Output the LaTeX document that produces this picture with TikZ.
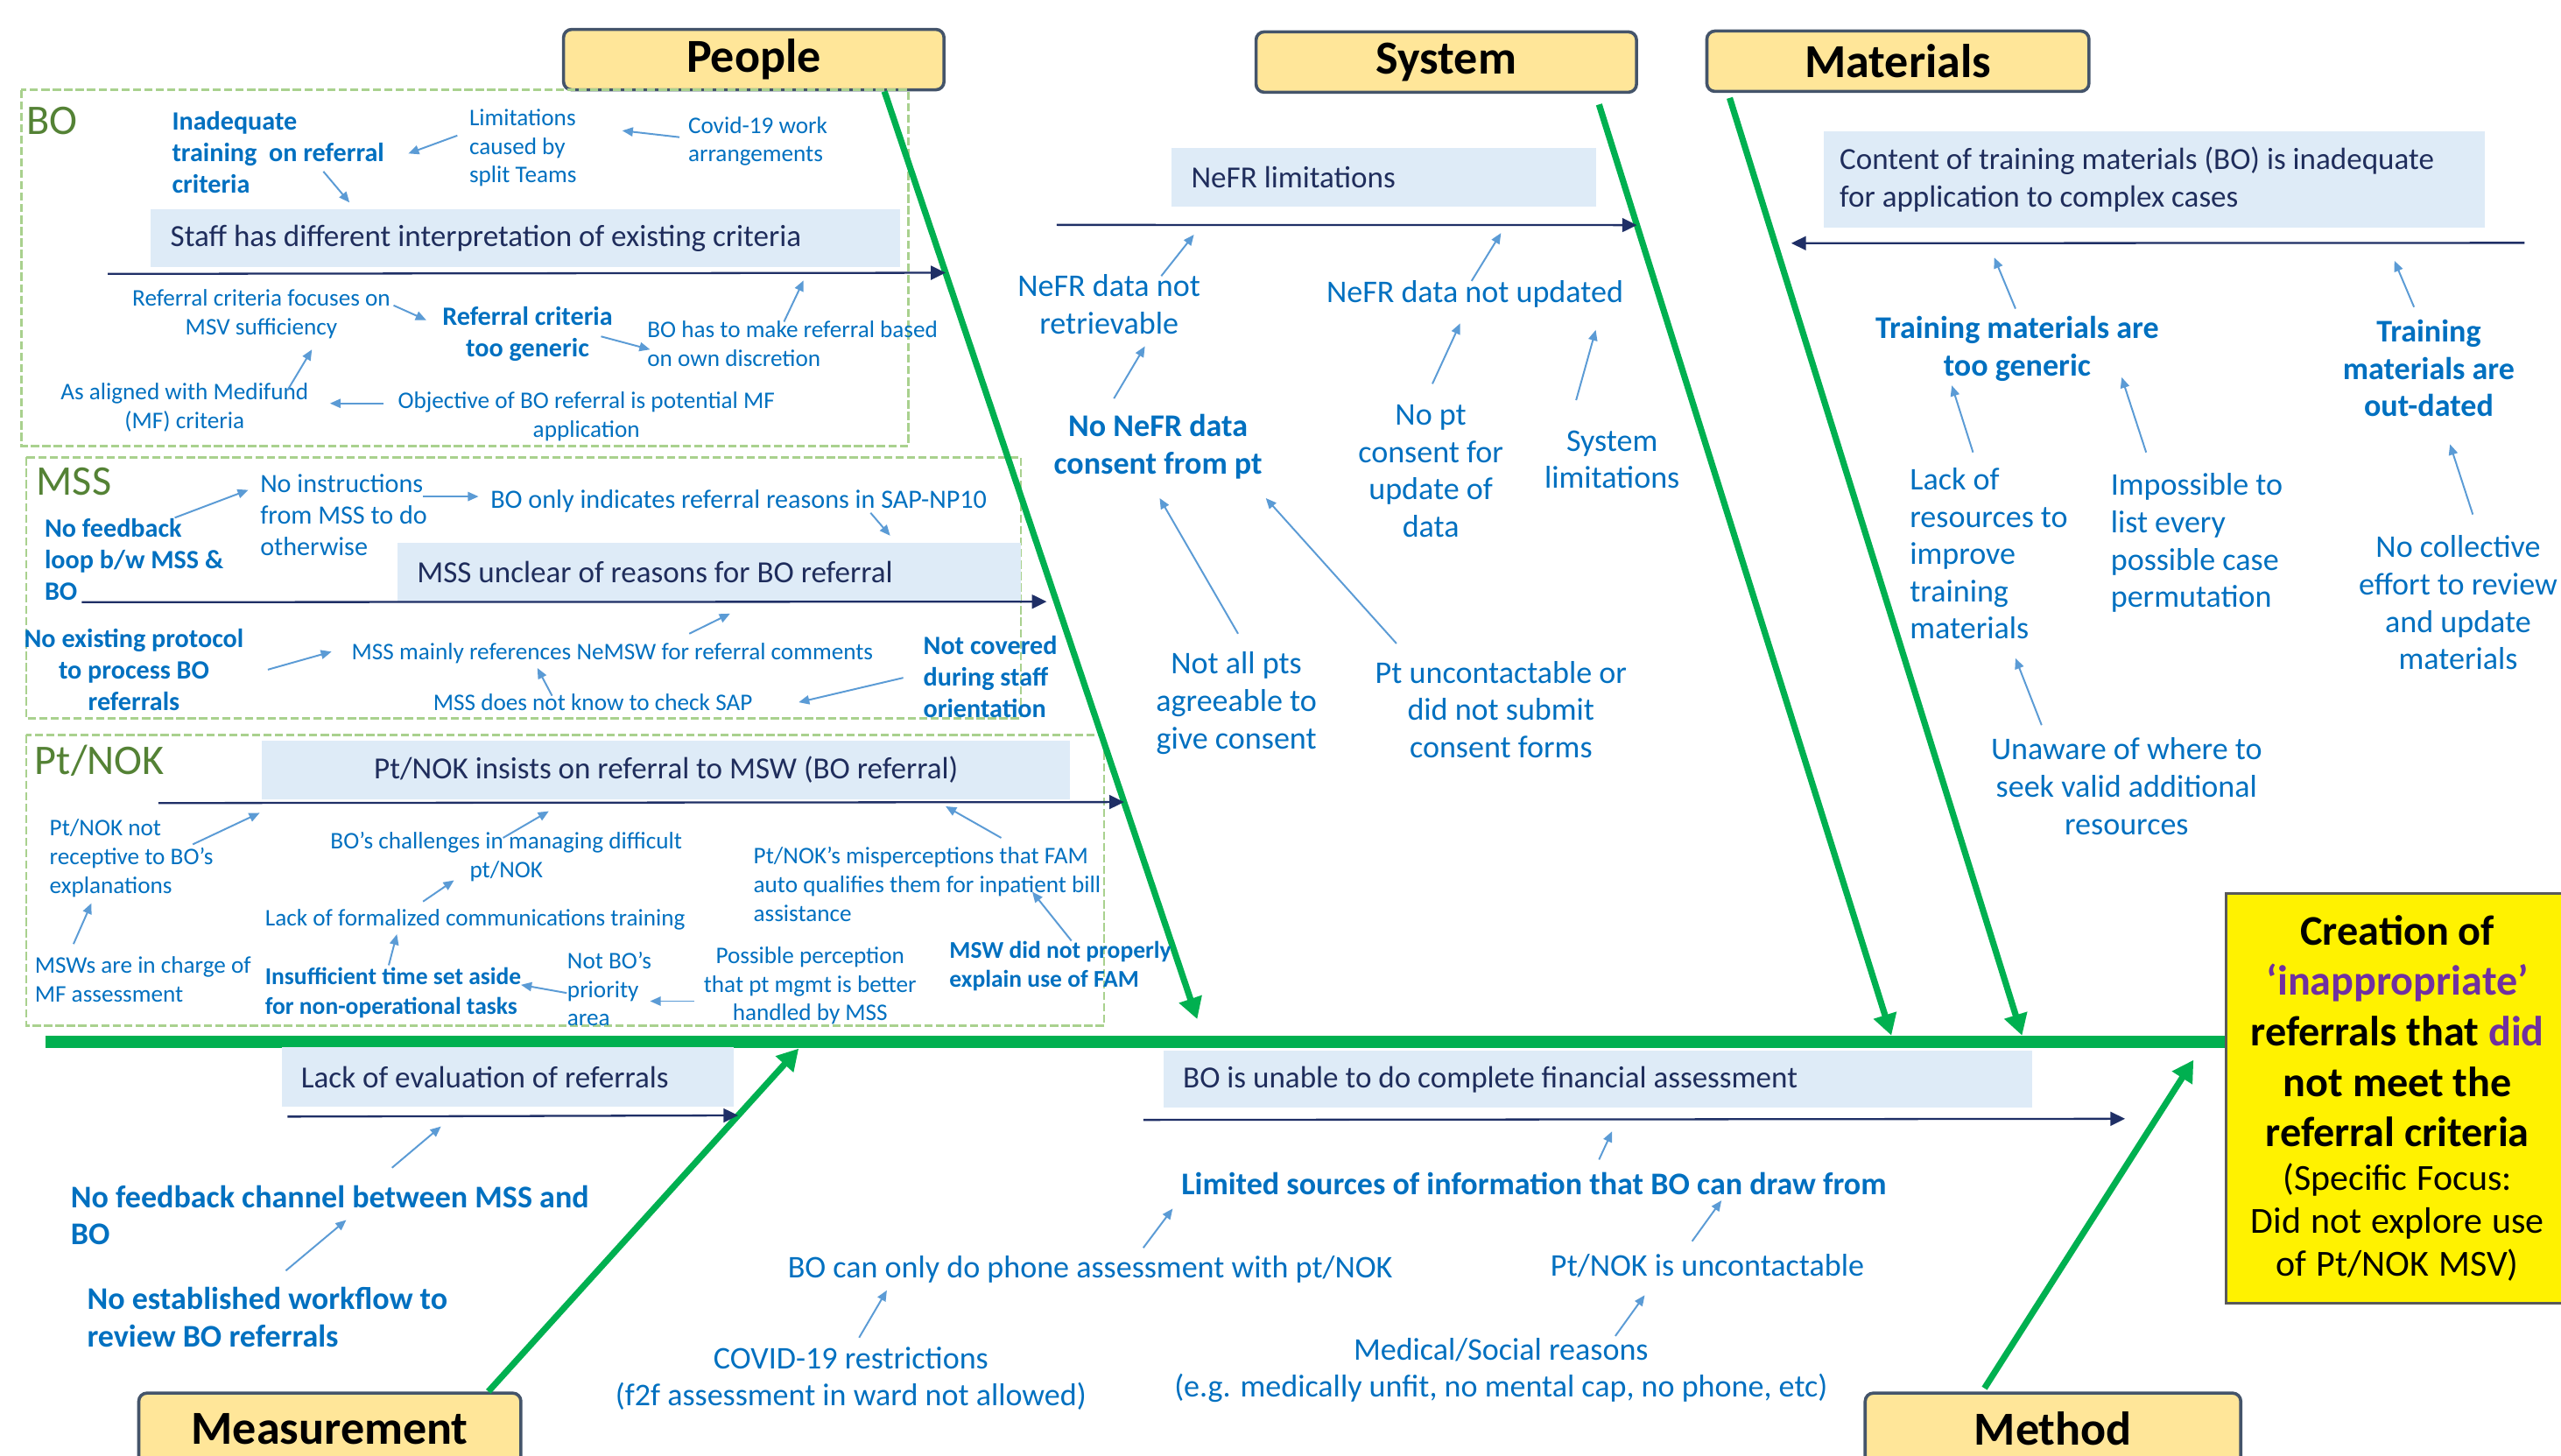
\documentclass[tikz,border=0pt]{standalone}
\usepackage{fontspec}
\setmainfont{Carlito}
\usepackage{tikz}
\usetikzlibrary{arrows.meta}

\definecolor{headfill}{HTML}{FFE699}
\definecolor{headline}{HTML}{44546A}
\definecolor{spinegreen}{HTML}{00B050}
\definecolor{branchfill}{HTML}{DEEBF7}
\definecolor{branchtext}{HTML}{1F2D5C}
\definecolor{navyline}{HTML}{1F2F66}
\definecolor{causetext}{HTML}{0070C0}
\definecolor{causearrow}{HTML}{5B9BD5}
\definecolor{groupline}{HTML}{A9D18E}
\definecolor{grouptext}{HTML}{548235}
\definecolor{effectline}{HTML}{595959}
\definecolor{purpletxt}{HTML}{7030A0}

\begin{document}
\begin{tikzpicture}[x=0.02cm, y=-0.02cm,
    headbox/.style={draw=headline, fill=headfill, line width=1.1pt, rounded corners=0.1cm, inner sep=0pt, minimum height=0.74cm, font=\bfseries\fontsize{16.5}{20}\selectfont},
    branchbox/.style={fill=branchfill, text=branchtext, inner xsep=0.24cm, inner ysep=0pt, align=flush left, anchor=north west, font=\fontsize{10.7}{13}\selectfont},
    grouplbl/.style={text=grouptext, inner sep=0pt, anchor=west, font=\fontsize{14.7}{17}\selectfont},
    tinytxt/.style={text=causetext, inner sep=0pt, font=\fontsize{8.3}{10}\selectfont},
    tinybold/.style={text=causetext, inner sep=0pt, font=\bfseries\fontsize{9.2}{11}\selectfont},
    ptbold/.style={text=causetext, inner sep=0pt, font=\bfseries\fontsize{8.4}{10.2}\selectfont},
    midtxt/.style={text=causetext, inner sep=0pt, font=\fontsize{11}{13}\selectfont},
    midbold/.style={text=causetext, inner sep=0pt, font=\bfseries\fontsize{11}{13}\selectfont},
    groupbox/.style={draw=groupline, line width=0.8pt, dash pattern=on 0.1cm off 0.04cm},
    cause/.style={draw=causearrow, line width=0.6pt, -{Triangle[length=0.13cm, width=0.11cm]}},
    branchline/.style={draw=navyline, line width=0.7pt, -{Triangle[length=0.18cm, width=0.17cm]}},
    bone/.style={draw=spinegreen, line width=2.2pt, -{Triangle[length=0.26cm, width=0.28cm]}},
    spine/.style={draw=spinegreen, line width=4.3pt}]
  \useasboundingbox (0,0) rectangle (1568,891);

  % category heads
  \node[headbox, minimum width=4.66cm] (people) at (461.5,36.5) {People};
  \node[headbox, minimum width=4.66cm] (system) at (885.5,38) {System};
  \node[headbox, minimum width=4.68cm] (materials) at (1162,37.5) {Materials};
  \node[headbox, minimum width=4.68cm, minimum height=0.88cm, anchor=north west] (measure) at (84,852) {Measurement};
  \node[headbox, minimum width=4.6cm, minimum height=0.88cm, anchor=north west] (method) at (1141,852) {Method};

  % effect
  \node[draw=effectline, fill=yellow, line width=1pt, anchor=north west, minimum width=4.2cm, minimum height=5.02cm, text width=4.0cm, align=center, inner sep=0pt] (effect) at (1362,546)
    {\fontsize{14.7}{17.6}\selectfont\bfseries Creation of\\
     \textcolor{purpletxt}{‘inappropriate’}\\
     referrals that \textcolor{purpletxt}{did}\\
     not meet the\\
     referral criteria\par
     \fontsize{12.8}{15}\selectfont\mdseries (Specific Focus:\\
     Did not explore use\\
     of Pt/NOK MSV)\par};

  % groups
  \draw[groupbox] (13,55) rectangle (556,273); % BO
  \draw[groupbox] (16,280) rectangle (625,440); % MSS
  \draw[groupbox] (16,450) rectangle (676,628); % Pt/NOK

  % spine and bones
  \coordinate (tail) at (28,638);
  \coordinate (ptip) at (733,624);
  \coordinate (stip) at (1158,634);
  \coordinate (mtip) at (1238,634);
  \coordinate (etip) at (489,642);
  \coordinate (htip) at (1343,649);
  \draw[spine] (tail) -- (tail -| effect.west); % spine
  \draw[bone] ([shift={(80,0)}]people.south) -- coordinate[pos=0.1955] (pb1) coordinate[pos=0.55] (pb2) coordinate[pos=0.766] (pb3) (ptip); % people
  \draw[bone] ([shift={(93.5,6.5)}]system.south) -- coordinate[pos=0.1296] (sb1) (stip); % system
  \draw[bone] ([shift={(-103,3)}]materials.south) -- coordinate[pos=0.155] (mb1) (mtip); % materials
  \draw[bone] ([shift={(215,0)}]measure.north west) -- coordinate[pos=0.805] (eb1) (etip); % measurement
  \draw[bone] ([shift={(74,-2)}]method.north west) -- coordinate[pos=0.821] (hb1) (htip); % method

  % BO
  \node[grouplbl] (bolbl) at (16,74) {BO};
  \node[tinybold, align=left, anchor=west] (inad) at (105,93.5) {Inadequate\\training\ \ on referral\\criteria};
  \node[tinytxt, align=left, anchor=west] (limit) at (287,90.5) {Limitations\\caused by\\split Teams};
  \node[tinytxt, align=left, anchor=west] (covid) at (421,86.5) {Covid-19 work\\arrangements};
  \node[branchbox, text width=8.7cm, minimum height=0.7cm] (staff) at (92,128) {Staff has different interpretation of existing criteria};
  \node[tinytxt, align=center] (rcfoc) at (160,192.5) {Referral criteria focuses on\\MSV sufficiency};
  \node[tinybold, align=center] (rcgen) at (323,204.5) {Referral criteria\\too generic};
  \node[tinytxt, align=left, anchor=west] (bodisc) at (396,210.5) {BO has to make referral based\\on own discretion};
  \node[tinytxt, align=center] (medif) at (113,249.5) {As aligned with Medifund\\(MF) criteria};
  \node[tinytxt, align=center] (objct) at (359,255) {Objective of BO referral is potential MF\\application};
  \draw[branchline] ([shift={(-26,4)}]staff.south west) -- (pb1);
  \draw[cause] ([shift={(-7,-7.5)}]limit.west) -- ([shift={(145,0.5)}]inad.west);
  \draw[cause] ([shift={(-5,-2.5)}]covid.west) -- ([shift={(94,-10.5)}]limit.west);
  \draw[cause] ([shift={(93,11.5)}]inad.west) -- ([shift={(122,-4)}]staff.north west);
  \draw[cause] ([shift={(81,-5.5)}]rcfoc.center) -- ([shift={(-62,-8.5)}]rcgen.center);
  \draw[cause] ([shift={(45,1.5)}]rcgen.center) -- ([shift={(2,3.5)}]bodisc.west);
  \draw[cause] ([shift={(84,-13.5)}]bodisc.west) -- ([shift={(400,8)}]staff.south west);
  \draw[cause] ([shift={(63,-10.5)}]medif.center) -- ([shift={(31,21.5)}]rcfoc.center);
  \draw[cause] ([shift={(-124,-8)}]objct.center) -- ([shift={(89,-2.5)}]medif.center);

  % MSS
  \node[grouplbl] (msslbl) at (22,295) {MSS};
  \node[tinybold, align=left, anchor=west] (nofb) at (27,342.5) {No feedback\\loop b/w MSS \&\\BO};
  \node[tinytxt, font=\fontsize{9.2}{11}\selectfont, align=left, anchor=west] (noinst) at (159,315.5) {No instructions\\from MSS to do\\otherwise};
  \node[tinytxt, font=\fontsize{9.2}{11}\selectfont, anchor=west] (boonly) at (300,307) {BO only indicates referral reasons in SAP-NP10};
  \node[branchbox, text width=7.16cm, minimum height=0.72cm] (mss) at (243,332) {MSS unclear of reasons for BO referral};
  \node[tinybold, align=center] (noprot) at (82,410) {No existing protocol\\to process BO\\referrals};
  \node[tinytxt, anchor=west] (mainly) at (215,400) {MSS mainly references NeMSW for referral comments};
  \node[tinytxt] (nocheck) at (363,430) {MSS does not know to check SAP};
  \node[tinybold, align=left, anchor=west] (notcov) at (565,414.5) {Not covered\\during staff\\orientation};
  \draw[branchline, shorten >=0.12cm] ([shift={(-193,0)}]mss.south west) -- (pb2);
  \draw[cause] ([shift={(80,-25.5)}]nofb.west) -- ([shift={(-7,-15.5)}]noinst.west);
  \draw[cause] ([shift={(100,-11.5)}]noinst.west) -- ([shift={(-7,-3)}]boonly.west);
  \draw[cause] ([shift={(233,7)}]boonly.west) -- ([shift={(302,-4)}]mss.north west);
  \draw[cause] ([shift={(82,0)}]noprot.center) -- ([shift={(-12,-1)}]mainly.west);
  \draw[cause] ([shift={(207,-12)}]mainly.west) -- ([shift={(204,7)}]mss.south west);
  \draw[cause] ([shift={(-25,-4)}]nocheck.center) -- ([shift={(114,9)}]mainly.west);
  \draw[cause] ([shift={(-12,0.5)}]notcov.west) -- ([shift={(126,0)}]nocheck.center);

  % Pt/NOK
  \node[grouplbl] (ptlbl) at (21,466) {Pt/NOK};
  \node[branchbox, align=flush center, text width=9.42cm, minimum height=0.72cm] (ptbox) at (160,453) {Pt/NOK insists on referral to MSW (BO referral)};
  \node[tinytxt, align=left, anchor=west] (ptnot) at (30,525.5) {Pt/NOK not\\receptive to BO’s\\explanations};
  \node[tinytxt, align=center] (chall) at (310,524.5) {BO’s challenges in managing difficult\\pt/NOK};
  \node[tinytxt, align=left, anchor=west] (misp) at (461,541.5) {Pt/NOK’s misperceptions that FAM\\auto qualifies them for inpatient bill\\assistance};
  \node[tinytxt, anchor=west] (formal) at (162,563) {Lack of formalized communications training};
  \node[tinytxt, align=left, anchor=west] (mswchg) at (21,599.5) {MSWs are in charge of\\MF assessment};
  \node[ptbold, align=left, anchor=west] (insuff) at (162,608) {Insufficient time set aside\\for non-operational tasks};
  \node[tinytxt, align=left, anchor=west] (notbo) at (347,605.5) {Not BO’s\\priority\\area};
  \node[tinytxt, align=center] (possible) at (496,603.5) {Possible perception\\that pt mgmt is better\\handled by MSS};
  \node[ptbold, align=left, anchor=west] (mswdid) at (581,591.5) {MSW did not properly\\explain use of FAM};
  \draw[branchline] ([shift={(-63,2)}]ptbox.south west) -- (pb3);
  \draw[cause] ([shift={(88,-8.5)}]ptnot.west) -- ([shift={(-1,8)}]ptbox.south west);
  \draw[cause] ([shift={(-2,-11.5)}]chall.center) -- ([shift={(176,7)}]ptbox.south west);
  \draw[cause] ([shift={(152,-28.5)}]misp.west) -- ([shift={(419,4)}]ptbox.south west);
  \draw[cause] ([shift={(97,-11)}]formal.west) -- ([shift={(-32,14.5)}]chall.center);
  \draw[cause] ([shift={(24,-21.5)}]mswchg.west) -- ([shift={(26,27.5)}]ptnot.west);
  \draw[cause] ([shift={(76,-17)}]insuff.west) -- ([shift={(81,9)}]formal.west);
  \draw[cause] ([shift={(0,2.5)}]notbo.west) -- ([shift={(157,-5)}]insuff.west);
  \draw[cause] ([shift={(-71,9.5)}]possible.center) -- ([shift={(51,7.5)}]notbo.west);
  \draw[cause] ([shift={(75,-15.5)}]mswdid.west) -- ([shift={(171,4.5)}]misp.west);

  % System
  \node[branchbox, text width=4.72cm, minimum height=0.72cm] (nefr) at (717,90) {NeFR limitations};
  \node[midtxt, align=center] (nefrret) at (679,186.5) {NeFR data not\\retrievable};
  \node[midtxt] (nefrupd) at (903,180) {NeFR data not updated};
  \node[midbold, align=center] (noconsent) at (709,273.5) {No NeFR data\\consent from pt};
  \node[midtxt, align=center] (noptcons) at (876,288.5) {No pt\\consent for\\update of\\data};
  \node[midtxt, align=center] (syslim) at (987,281.5) {System\\limitations};
  \node[midtxt, align=center] (notall) at (757,430.5) {Not all pts\\agreeable to\\give consent};
  \node[midtxt, align=center] (uncont) at (919,434.5) {Pt uncontactable or\\did not submit\\consent forms};
  \draw[branchline] ([shift={(-70,11)}]nefr.south west) -- (sb1);
  \draw[cause] ([shift={(32,-17.5)}]nefrret.center) -- ([shift={(14,17)}]nefr.south west);
  \draw[cause] ([shift={(-2,-8)}]nefrupd.center) -- ([shift={(202,16)}]nefr.south west);
  \draw[cause] ([shift={(-27,-29.5)}]noconsent.center) -- ([shift={(22,25.5)}]nefrret.center);
  \draw[cause] ([shift={(1,-53.5)}]noptcons.center) -- ([shift={(-9,18)}]nefrupd.center);
  \draw[cause] ([shift={(-22,-36.5)}]syslim.center) -- ([shift={(74,22)}]nefrupd.center);
  \draw[cause] ([shift={(1,-42.5)}]notall.center) -- ([shift={(1,31.5)}]noconsent.center);
  \draw[cause] ([shift={(-64,-40.5)}]uncont.center) -- ([shift={(66,31.5)}]noconsent.center);

  % Materials
  \node[branchbox, text width=7.7cm, inner xsep=0.2cm, minimum height=1.18cm] (content) at (1116,80) {Content of training materials (BO) is inadequate\\for application to complex cases};
  \node[midbold, align=center] (tmgen) at (1235,213.5) {Training materials are\\too generic};
  \node[midbold, align=center] (tmout) at (1487,225.5) {Training\\materials are\\out-dated};
  \node[midtxt, align=left, anchor=west] (lackres) at (1169,339) {Lack of\\resources to\\improve\\training\\materials};
  \node[midtxt, align=left, anchor=west] (imposs) at (1292,332.5) {Impossible to\\list every\\possible case\\permutation};
  \node[midtxt, align=center] (nocoll) at (1505,369) {No collective\\effort to review\\and update\\materials};
  \node[midtxt, align=center] (unaware) at (1302,481.5) {Unaware of where to\\seek valid additional\\resources};
  \draw[branchline, shorten >=0.2cm] ([shift={(24,9)}]content.south east) -- (mb1);
  \draw[cause] ([shift={(-1,-24.5)}]tmgen.center) -- ([shift={(105,18)}]content.south west);
  \draw[cause] ([shift={(-9,-37.5)}]tmout.center) -- ([shift={(350,20)}]content.south west);
  \draw[cause] ([shift={(39,-62)}]lackres.west) -- ([shift={(-40,22.5)}]tmgen.center);
  \draw[cause] ([shift={(22,-55.5)}]imposs.west) -- ([shift={(64,17.5)}]tmgen.center);
  \draw[cause] ([shift={(9,-54)}]nocoll.center) -- ([shift={(13,46.5)}]tmout.center);
  \draw[cause] ([shift={(-52,-37.5)}]unaware.center) -- ([shift={(65,64)}]lackres.west);

  % Measurement
  \node[branchbox, text width=5.06cm, minimum height=0.72cm] (lackeval) at (172,641) {Lack of evaluation of referrals};
  \node[midbold, align=left, anchor=west] (nofbch) at (43,744) {No feedback channel between MSS and\\BO};
  \node[midbold, align=left, anchor=west] (noestab) at (53,806.5) {No established workflow to\\review BO referrals};
  \node[midtxt, anchor=west] (phone) at (482,777) {BO can only do phone assessment with pt/NOK};
  \node[midtxt, align=center] (covid19) at (521,844) {COVID-19 restrictions\\(f2f assessment in ward not allowed)};
  \draw[branchline] ([shift={(4,6)}]lackeval.south west) -- (eb1);
  \draw[cause] ([shift={(197,-29)}]nofbch.west) -- ([shift={(98,12)}]lackeval.south west);
  \draw[cause] ([shift={(122,-28.5)}]noestab.west) -- ([shift={(169,3)}]nofbch.west);
  \draw[cause] ([shift={(5,-25)}]covid19.center) -- ([shift={(61,13)}]phone.west);

  % Method
  \node[branchbox, text width=10.16cm, minimum height=0.7cm] (unable) at (712,643) {BO is unable to do complete financial assessment};
  \node[midbold, anchor=west] (limited) at (723,725) {Limited sources of information that BO can draw from};
  \node[midtxt, anchor=west] (uncontact) at (949,775) {Pt/NOK is uncontactable};
  \node[midtxt, align=center] (medical) at (919,839) {Medical/Social reasons\\(e.g. medically unfit, no mental cap, no phone, etc)};
  \draw[branchline, shorten >=0.38cm] ([shift={(-12,7)}]unable.south west) -- (hb1);
  \draw[cause] ([shift={(218,-13)}]phone.west) -- ([shift={(-5,15)}]limited.west);
  \draw[cause] ([shift={(256,-15)}]limited.west) -- ([shift={(275,14)}]unable.south west);
  \draw[cause] ([shift={(87,-15)}]uncontact.west) -- ([shift={(331,10)}]limited.west);
  \draw[cause] ([shift={(70,-21)}]medical.center) -- ([shift={(58,18)}]uncontact.west);
\end{tikzpicture}
\end{document}
